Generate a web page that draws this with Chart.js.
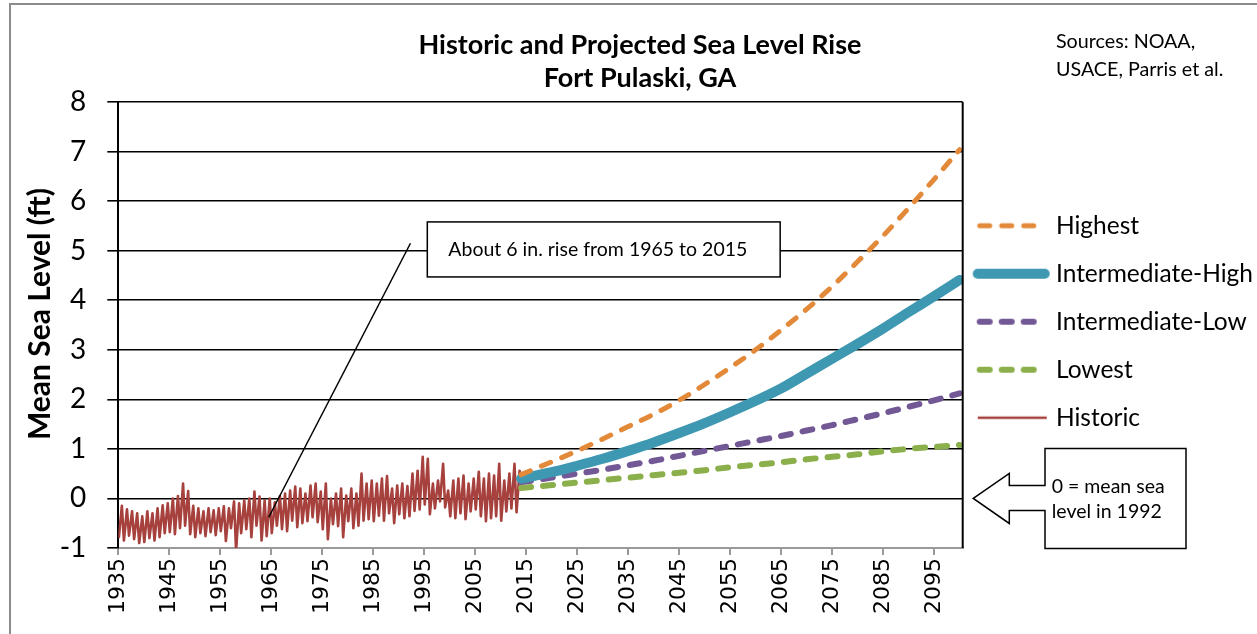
<!DOCTYPE html>
<html>
<head>
<meta charset="utf-8">
<script src="https://cdn.jsdelivr.net/npm/chart.js@4/dist/chart.umd.min.js"></script>
<style>
html,body{margin:0;padding:0;background:#fff;}
canvas{display:block;}
</style>
</head>
<body>
<canvas id="c" width="1257" height="634"></canvas>
<script>
// ---------------- DATA ----------------
const titleLines = ['Historic and Projected Sea Level Rise', 'Fort Pulaski, GA'];
const sourceLines = ['Sources: NOAA,', 'USACE, Parris et al.'];
const yAxisTitle = 'Mean Sea Level (ft)';
const note1Text = 'About 6 in. rise from 1965 to 2015';
const note2Lines = ['0 = mean sea', 'level in 1992'];

const xTickYears = [1935,1945,1955,1965,1975,1985,1995,2005,2015,2025,2035,2045,2055,2065,2075,2085,2095];
const yMin = -1, yMax = 8;

const seriesNames = ['Highest', 'Intermediate-High', 'Intermediate-Low', 'Lowest', 'Historic'];

// Historic: yearly seasonal low (early in year) and high (late in year), 1935 onward
const histStartYear = 1935;
const histLow = [
  -0.80,-0.85,-0.75,-0.82,-0.90,-0.88,-0.80,-0.85,-0.78,-0.70,
  -0.68,-0.72,-0.60,-0.55,-0.72,-0.78,-0.70,-0.76,-0.68,-0.74,
  -0.66,-0.86,-0.60,-1.05,-0.70,-0.62,-0.78,-0.55,-0.85,-0.76,
  -0.70,-0.55,-0.62,-0.66,-0.45,-0.58,-0.50,-0.46,-0.38,-0.48,
  -0.62,-0.82,-0.52,-0.56,-0.78,-0.46,-0.60,-0.55,-0.45,-0.42,
  -0.46,-0.35,-0.45,-0.30,-0.50,-0.32,-0.40,-0.36,-0.25,-0.22,
  -0.12,-0.32,-0.20,-0.06,-0.18,-0.36,-0.40,-0.30,-0.42,-0.26,
  -0.22,-0.36,-0.46,-0.40,-0.36,-0.45,-0.26,-0.20,-0.28, 0.30
];
const histHigh = [
  -0.15,-0.22,-0.26,-0.30,-0.36,-0.26,-0.30,-0.20,-0.14,-0.10,
   0.00, 0.05, 0.30, 0.15,-0.15,-0.20,-0.26,-0.20,-0.24,-0.20,
  -0.16,-0.20,-0.06,-0.10,-0.04, 0.00, 0.14, 0.04,-0.04, 0.00,
  -0.08, 0.05, 0.10, 0.16, 0.24, 0.20, 0.10, 0.26, 0.30, 0.14,
   0.30, 0.00, 0.10, 0.20, 0.06, 0.20, 0.10, 0.50, 0.30, 0.36,
   0.30, 0.40, 0.45, 0.20, 0.26, 0.30, 0.25, 0.50, 0.56, 0.84,
   0.80, 0.30, 0.36, 0.70, 0.16, 0.36, 0.40, 0.46, 0.30, 0.40,
   0.54, 0.40, 0.50, 0.46, 0.70, 0.36, 0.50, 0.70, 0.56
];

// Projections (ft, relative to 1992 mean sea level)
const projYears    = [2014,2020,2025,2030,2035,2040,2045,2050,2055,2060,2065,2070,2075,2080,2085,2090,2095,2100];
const highest      = [0.48,0.74,0.96,1.20,1.45,1.70,1.98,2.30,2.64,3.00,3.40,3.82,4.28,4.78,5.30,5.86,6.44,7.04];
const intermedHigh = [0.40,0.53,0.66,0.80,0.96,1.13,1.32,1.52,1.74,1.97,2.22,2.52,2.82,3.12,3.43,3.76,4.08,4.41];
const intermedLow  = [0.33,0.42,0.50,0.58,0.67,0.76,0.86,0.96,1.06,1.16,1.26,1.37,1.48,1.60,1.72,1.85,1.98,2.12];
const lowest       = [0.21,0.27,0.32,0.37,0.42,0.47,0.52,0.57,0.63,0.68,0.73,0.79,0.84,0.89,0.95,1.00,1.04,1.08];

// ---------------- BUILD ----------------
const histPoints = [];
histLow.forEach((v, i) => {
  const yr = histStartYear + i;
  histPoints.push({x: yr + 0.1, y: v});
  if (i < histHigh.length) histPoints.push({x: yr + 0.7, y: histHigh[i]});
});
const proj = arr => projYears.map((yr, i) => ({x: yr, y: arr[i]}));

const PLOT_RIGHT = 962.7;
const COLORS = ['#E38A3A', '#3E98B2', '#735896', '#8BAF4B', '#A6413D'];

// legend symbols (drawn as small canvases used as point styles)
function legendSymbol(color, width, dash, cap, x0, x1) {
  const c = document.createElement('canvas');
  c.width = 84; c.height = 16;
  const g = c.getContext('2d');
  g.strokeStyle = color; g.lineWidth = width; g.lineCap = cap; g.setLineDash(dash);
  g.beginPath(); g.moveTo(42 + x0, 8); g.lineTo(42 + x1, 8); g.stroke();
  return c;
}
const symbols = [
  legendSymbol(COLORS[0], 5, [10, 12], 'round', -31, 31),
  legendSymbol(COLORS[1], 10, [], 'round', -33, 34),
  legendSymbol(COLORS[2], 6, [10, 12], 'round', -31, 31),
  legendSymbol(COLORS[3], 6, [10, 12], 'round', -31, 31),
  legendSymbol(COLORS[4], 2.7, [], 'butt', -33, 36)
];

const deco = {
  id: 'deco',
  beforeLayout(chart) {
    const lg = chart.legend;
    if (lg && !lg.__patched) {
      const f = lg.fit;
      lg.fit = function () { f.apply(this, arguments); this.width = chart.width - PLOT_RIGHT; };
      lg.__patched = true;
    }
  },
  beforeDraw(chart) {
    const {ctx, width, height} = chart;
    ctx.save();
    ctx.fillStyle = '#fff';
    ctx.fillRect(0, 0, width, height);
    ctx.strokeStyle = '#8c8c8c';
    ctx.lineWidth = 2;
    ctx.beginPath();
    ctx.moveTo(10, height);
    ctx.lineTo(10, 4);
    ctx.lineTo(width, 4);
    ctx.stroke();
    ctx.restore();
  },
  afterDraw(chart) {
    const {ctx, chartArea} = chart;
    const xs = chart.scales.x, ys = chart.scales.y;
    const X = v => xs.getPixelForValue(v), Y = v => ys.getPixelForValue(v);
    ctx.save();
    // plot right border
    ctx.strokeStyle = '#000';
    ctx.lineWidth = 2;
    ctx.beginPath();
    ctx.moveTo(chartArea.right, chartArea.top);
    ctx.lineTo(chartArea.right, chartArea.bottom);
    ctx.stroke();

    // title
    ctx.fillStyle = '#000';
    ctx.textAlign = 'center';
    ctx.textBaseline = 'middle';
    ctx.font = 'bold 27px Lato';
    ctx.fillText(titleLines[0], 640, 45);
    ctx.fillText(titleLines[1], 640, 78);

    // sources
    ctx.textAlign = 'left';
    ctx.font = '19.7px Lato';
    ctx.fillText(sourceLines[0], 1056, 42);
    ctx.fillText(sourceLines[1], 1056, 70);

    // note 1: leader line + box
    ctx.strokeStyle = '#000';
    ctx.lineWidth = 1.5;
    ctx.beginPath();
    ctx.moveTo(X(1992.3), Y(5.15));
    ctx.lineTo(X(1964.5), Y(-0.38));
    ctx.stroke();
    const bx0 = X(1995.6), bx1 = X(2064.8), by0 = Y(5.58), by1 = Y(4.47);
    ctx.fillStyle = '#fff';
    ctx.fillRect(bx0, by0, bx1 - bx0, by1 - by0);
    ctx.strokeRect(bx0, by0, bx1 - bx0, by1 - by0);
    ctx.fillStyle = '#000';
    ctx.font = '19.5px Lato';
    ctx.fillText(note1Text, bx0 + 21, (by0 + by1) / 2);

    // note 2: left arrow callout
    const r = chartArea.right, y0 = Y(0);
    const pts = [
      [r + 10.6, y0], [r + 46.6, y0 - 25], [r + 46.6, y0 - 13], [r + 82.3, y0 - 13],
      [r + 82.3, y0 - 50], [r + 223.3, y0 - 50], [r + 223.3, y0 + 50], [r + 82.3, y0 + 50],
      [r + 82.3, y0 + 12], [r + 46.6, y0 + 12], [r + 46.6, y0 + 25]
    ];
    ctx.beginPath();
    pts.forEach((p, i) => i ? ctx.lineTo(p[0], p[1]) : ctx.moveTo(p[0], p[1]));
    ctx.closePath();
    ctx.fillStyle = '#fff';
    ctx.fill();
    ctx.stroke();
    ctx.fillStyle = '#000';
    ctx.font = '19.5px Lato';
    ctx.fillText(note2Lines[0], r + 89, y0 - 12);
    ctx.fillText(note2Lines[1], r + 89, y0 + 13);
    ctx.restore();
  }
};

new Chart(document.getElementById('c'), {
  type: 'line',
  data: {
    datasets: [
      {label: seriesNames[0], data: proj(highest), borderColor: COLORS[0], backgroundColor: COLORS[0], pointStyle: symbols[0],
       borderWidth: 5, borderDash: [10, 12], borderCapStyle: 'round', cubicInterpolationMode: 'monotone'},
      {label: seriesNames[1], data: proj(intermedHigh), borderColor: COLORS[1], backgroundColor: COLORS[1], pointStyle: symbols[1],
       borderWidth: 10, borderCapStyle: 'round', cubicInterpolationMode: 'monotone'},
      {label: seriesNames[2], data: proj(intermedLow), borderColor: COLORS[2], backgroundColor: COLORS[2], pointStyle: symbols[2],
       borderWidth: 6, borderDash: [10, 12], borderCapStyle: 'round', cubicInterpolationMode: 'monotone'},
      {label: seriesNames[3], data: proj(lowest), borderColor: COLORS[3], backgroundColor: COLORS[3], pointStyle: symbols[3],
       borderWidth: 6, borderDash: [10, 12], borderCapStyle: 'round', cubicInterpolationMode: 'monotone'},
      {label: seriesNames[4], data: histPoints, borderColor: COLORS[4], backgroundColor: COLORS[4], pointStyle: symbols[4],
       borderWidth: 2.6, borderJoinStyle: 'round', tension: 0}
    ]
  },
  options: {
    responsive: false,
    animation: false,
    devicePixelRatio: 1,
    events: [],
    elements: {point: {radius: 0}},
    layout: {padding: {top: 102, left: 0, right: 0, bottom: 0}},
    plugins: {
      title: {display: false},
      tooltip: {enabled: false},
      legend: {
        position: 'right',
        align: 'center',
        fullSize: false,
        title: {display: true, text: '', padding: 0, font: {size: 2, lineHeight: 1}},
        labels: {
          usePointStyle: true,
          pointStyleWidth: 66,
          padding: 15,
          color: '#000',
          font: {family: 'Lato', size: 24.5, lineHeight: 33 / 24.5},
          generateLabels: (chart) => Chart.defaults.plugins.legend.labels.generateLabels(chart)
            .map(l => Object.assign({}, l, {text: [l.text]}))
        }
      }
    },
    scales: {
      x: {
        type: 'linear',
        min: 1935,
        max: 2100.6,
        afterBuildTicks: s => { s.ticks = xTickYears.map(v => ({value: v})); },
        afterFit: s => { s.height = 86; },
        ticks: {
          autoSkip: false, minRotation: 90, maxRotation: 90, padding: 3, color: '#000',
          font: {family: 'DejaVu Sans', size: 22},
          callback: v => String(v)
        },
        grid: {drawOnChartArea: false, drawTicks: true, tickLength: 7, color: '#9a9a9a', lineWidth: 2},
        border: {display: true, color: '#9a9a9a', width: 2}
      },
      y: {
        min: yMin,
        max: yMax,
        afterFit: s => { s.width = 118.3; },
        ticks: {stepSize: 1, padding: 21, color: '#000', font: {family: 'Lato', size: 28}},
        grid: {
          color: c => (c.tick && c.tick.value === yMin) ? 'rgba(0,0,0,0)' : '#000',
          tickColor: '#000', lineWidth: 1.6, tickLength: 11
        },
        border: {display: true, color: '#000', width: 2},
        title: {
          display: true, text: '   ' + yAxisTitle, color: '#000',
          font: {family: 'Lato', size: 30, weight: 'bold'},
          padding: {top: 22, bottom: 0}
        }
      }
    }
  },
  plugins: [deco]
});
</script>
</body>
</html>
